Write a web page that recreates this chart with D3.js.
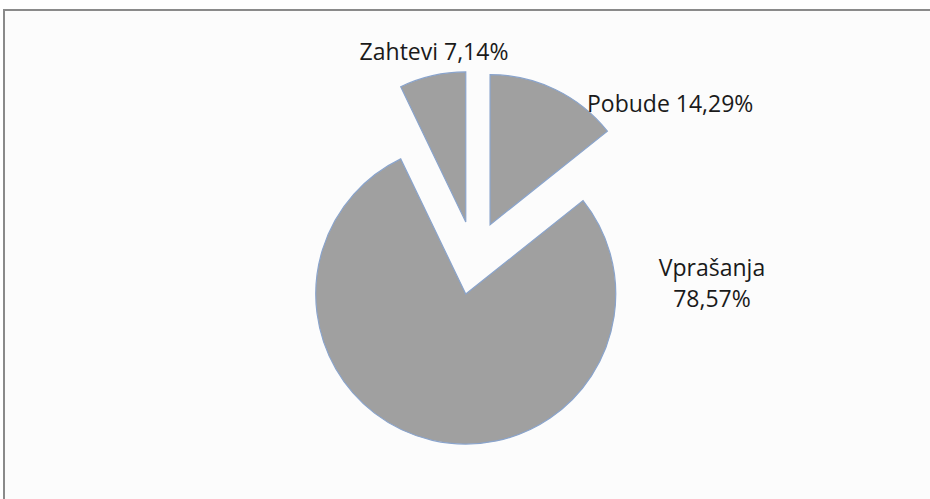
<!DOCTYPE html>
<html>
<head>
<meta charset="utf-8">
<script src="https://cdn.jsdelivr.net/npm/d3@7"></script>
<style>
  html, body { margin: 0; padding: 0; background: #ffffff; }
  svg { display: block; }
  text { font-family: "Open Sans", "Noto Sans", sans-serif; fill: #1a1a1a; }
</style>
</head>
<body>
<svg id="chart" width="930" height="499"></svg>
<script>
// ---- data ----
const categories = ["Pobude", "Vprašanja", "Zahtevi"];
const values = [14.29, 78.57, 7.14];
const labelLines = [["Pobude 14,29%"], ["Vprašanja", "78,57%"], ["Zahtevi 7,14%"]];

// ---- layout ----
const W = 930, H = 499;
const cx = 474, cy = 258, R = 150, explode = 37;
// label anchor positions relative to pie center, and anchors
const labelPos = [
  { dx: 113, dy: -146, anchor: "start" },
  { dx: 238, dy: 18, anchor: "middle" },
  { dx: -40, dy: -198, anchor: "middle" }
];

const svg = d3.select("#chart");

// frame (Excel chart area, cropped on right and bottom)
svg.append("rect").attr("x", 4).attr("y", 10).attr("width", W + 10).attr("height", H + 10)
  .attr("fill", "#fcfcfc").attr("stroke", "#8a8a8a").attr("stroke-width", 2);

const pie = d3.pie().sort(null).value(d => d).startAngle(0).endAngle(2 * Math.PI);
const arcs = pie(values);
const arc = d3.arc().innerRadius(0).outerRadius(R);

const g = svg.append("g").attr("transform", `translate(${cx},${cy})`);

g.selectAll("path.slice").data(arcs).enter().append("path")
  .attr("class", "slice")
  .attr("d", arc)
  .attr("transform", d => {
    const m = (d.startAngle + d.endAngle) / 2;
    return `translate(${explode * Math.sin(m)},${-explode * Math.cos(m)})`;
  })
  .attr("fill", "#a0a0a0")
  .attr("stroke", "#8aa4cc")
  .attr("stroke-width", 1.2)
  .attr("stroke-linejoin", "miter");

const lbl = g.selectAll("text.lbl").data(arcs).enter().append("text")
  .attr("class", "lbl")
  .attr("x", (d, i) => labelPos[i].dx)
  .attr("y", (d, i) => labelPos[i].dy)
  .attr("text-anchor", (d, i) => labelPos[i].anchor)
  .style("font-size", "23px");

lbl.each(function(d, i) {
  const t = d3.select(this);
  labelLines[i].forEach((line, k) => {
    t.append("tspan")
      .attr("x", labelPos[i].dx)
      .attr("dy", k === 0 ? 0 : 31)
      .text(line);
  });
});
</script>
</body>
</html>
